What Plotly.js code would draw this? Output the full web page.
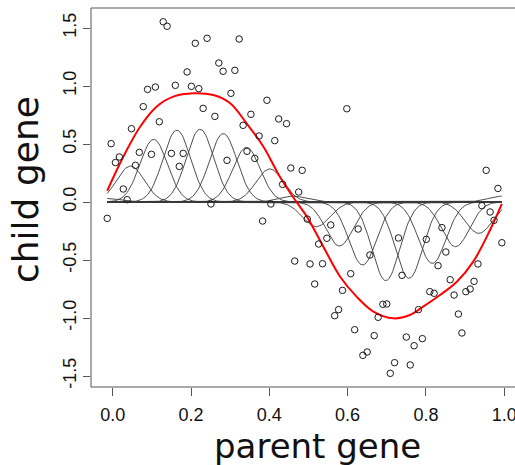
<!DOCTYPE html>
<html>
<head>
<meta charset="utf-8">
<script src="https://cdn.plot.ly/plotly-3.0.1.min.js"></script>
<style>html,body{margin:0;padding:0;background:#fff;}#chart{width:515px;height:465px;}</style>
</head>
<body>
<div id="chart"></div>
<script>
// Scatter data: parent gene (x) vs child gene (y)
const parentGene = [0.129,0.139,0.211,0.241,0.323,0.271,0.282,0.312,0.190,0.089,
  0.109,0.160,0.201,0.220,0.302,0.394,0.078,0.231,0.261,0.353,
  0.119,0.333,0.424,0.444,0.048,0.374,0.414,-0.004,0.068,0.099,
  0.150,0.180,0.343,0.363,0.017,0.007,0.058,0.170,0.292,0.455,
  0.484,0.027,0.434,0.475,0.037,0.598,0.954,0.984,-0.014,0.251,
  0.404,0.383,0.497,0.465,0.504,0.557,0.627,0.547,0.526,0.730,
  0.801,0.841,0.943,0.964,0.974,0.994,0.657,0.851,0.536,0.831,
  0.933,0.608,0.739,0.862,0.516,0.923,0.913,0.902,0.587,0.810,
  0.821,0.872,0.690,0.700,0.781,0.577,0.567,0.678,0.883,0.618,
  0.892,0.668,0.750,0.791,0.770,0.639,0.650,0.720,0.760,0.709];
const childGene = [1.554,1.515,1.368,1.411,1.405,1.198,1.127,1.135,1.121,0.971,
  0.991,1.006,0.997,0.977,0.937,0.877,0.822,0.807,0.738,0.756,
  0.692,0.661,0.716,0.675,0.632,0.569,0.529,0.503,0.428,0.411,
  0.419,0.419,0.437,0.376,0.388,0.340,0.316,0.307,0.359,0.293,
  0.273,0.112,0.152,0.086,0.020,0.804,0.273,0.117,-0.141,-0.017,
  -0.017,-0.164,-0.147,-0.509,-0.534,-0.198,-0.233,-0.313,-0.362,-0.310,
  -0.322,-0.221,-0.032,-0.086,-0.158,-0.351,-0.457,-0.431,-0.532,-0.549,
  -0.534,-0.618,-0.632,-0.670,-0.707,-0.684,-0.750,-0.773,-0.762,-0.773,
  -0.787,-0.802,-0.882,-0.879,-0.928,-0.928,-0.980,-0.994,-0.966,-1.101,
  -1.129,-1.152,-1.164,-1.178,-1.239,-1.322,-1.293,-1.385,-1.405,-1.477];

// Fitted curve (red)
const fitX = [-0.014,0.027,0.070,0.112,0.155,0.206,0.257,0.300,0.342,0.385,0.427,0.466,
  0.496,0.538,0.581,0.623,0.666,0.717,0.759,0.793,0.836,0.879,0.921,0.964,0.994];
const fitY = [0.097,0.390,0.649,0.822,0.908,0.937,0.922,0.851,0.678,0.477,0.218,0.017,
  -0.126,-0.385,-0.644,-0.816,-0.945,-1.003,-0.974,-0.902,-0.802,-0.687,-0.514,-0.241,-0.017];

// Weighted Gaussian basis functions (black): centres, weights, common width
const basisCenters = [-0.014,0.0453,0.1046,0.1639,0.2232,0.2825,0.3418,0.4011,0.4605,
  0.5198,0.5791,0.6384,0.6977,0.7570,0.8164,0.8757,0.9350,0.9943];
const basisWeights = [0.03,0.31,0.54,0.62,0.627,0.59,0.47,0.285,0.05,
  -0.213,-0.379,-0.543,-0.678,-0.658,-0.529,-0.385,-0.270,0.05];
const basisWidth = 0.035;

const yTickVals = [-1.5,-1.0,-0.5,0.0,0.5,1.0,1.5];
const yTickText = ["-1.5","-1.0","-0.5","0.0","0.5","1.0","1.5"];
const xTickVals = [0.0,0.2,0.4,0.6,0.8,1.0];
const xTickText = ["0.0","0.2","0.4","0.6","0.8","1.0"];

const xMin = Math.min(...parentGene), xMax = Math.max(...parentGene);
const grid = [];
for (let i = 0; i <= 300; i++) grid.push(xMin + (xMax - xMin) * i / 300);

const traces = [];
basisCenters.forEach((c, k) => {
  traces.push({
    x: grid,
    y: grid.map(v => basisWeights[k] * Math.exp(-((v - c) ** 2) / (2 * basisWidth ** 2))),
    mode: 'lines', type: 'scatter', hoverinfo: 'skip',
    line: {color: '#3a3a3a', width: 0.9}, showlegend: false
  });
});
traces.push({
  x: fitX, y: fitY, mode: 'lines', type: 'scatter',
  line: {color: '#ff0000', width: 2, shape: 'spline', smoothing: 1}, showlegend: false
});
traces.push({
  x: parentGene, y: childGene, mode: 'markers', type: 'scatter',
  marker: {symbol: 'circle-open', size: 6.5, color: '#1a1a1a', line: {width: 1, color: '#1a1a1a'}},
  showlegend: false
});

const axisCol = '#555555';
const layout = {
  width: 515, height: 465,
  margin: {l: 91, r: 0, t: 8, b: 78, pad: 0},
  paper_bgcolor: '#ffffff', plot_bgcolor: '#ffffff',
  showlegend: false,
  xaxis: {
    range: [-0.05543, 1.02759], showgrid: false, zeroline: false,
    showline: false, ticks: 'outside', ticklen: 8, tickwidth: 1, tickcolor: axisCol,
    tickvals: xTickVals, ticktext: xTickText, ticklabeloverflow: 'allow',
    tickfont: {family: 'Liberation Sans, Arial, sans-serif', size: 18, color: '#111'},
    ticklabelstandoff: 3
  },
  yaxis: {
    range: [-1.5948, 1.6724], showgrid: false, zeroline: false,
    showline: false, ticks: 'outside', ticklen: 7, tickwidth: 1, tickcolor: axisCol,
    tickvals: yTickVals, ticktext: yTickText, tickangle: -90,
    tickfont: {family: 'Liberation Sans, Arial, sans-serif', size: 18, color: '#111'},
    ticklabelstandoff: 0
  },
  shapes: [{
    type: 'rect', xref: 'paper', yref: 'paper', x0: 0, x1: 1.05, y0: 0, y1: 1,
    line: {color: axisCol, width: 1}, fillcolor: 'rgba(0,0,0,0)', layer: 'above'
  }],
  annotations: [
    {text: 'parent gene', xref: 'paper', yref: 'paper', x: 0.535, y: 0,
     xanchor: 'center', yanchor: 'middle', yshift: -59, showarrow: false,
     font: {family: 'DejaVu Sans, sans-serif', size: 34, color: '#111'}},
    {text: 'child gene', xref: 'paper', yref: 'paper', x: 0, y: 0.5198,
     xanchor: 'center', yanchor: 'middle', xshift: -65, textangle: -90, showarrow: false,
     font: {family: 'DejaVu Sans, sans-serif', size: 36, color: '#111'}}
  ]
};

Plotly.newPlot('chart', traces, layout, {displayModeBar: false, staticPlot: true});
</script>
</body>
</html>
